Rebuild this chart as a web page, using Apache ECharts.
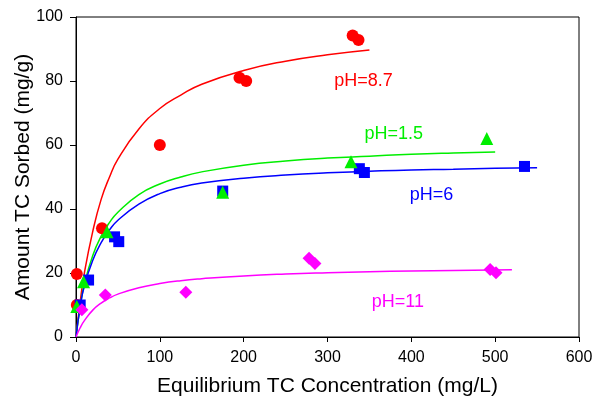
<!DOCTYPE html>
<html>
<head>
<meta charset="utf-8">
<script src="https://cdn.jsdelivr.net/npm/echarts@6/dist/echarts.min.js"></script>
<style>
  html, body { margin: 0; padding: 0; background: #fff; }
  #chart { width: 593px; height: 399px; }
</style>
</head>
<body>
<div id="chart"></div>
<script>
// measured points [concentration, sorbed]
const ph87Points = [[1, 10], [1, 19.7], [31, 34], [100, 60], [195, 81], [203, 80], [330, 94.2], [337, 92.8]];
const ph15Points = [[1, 9.5], [9, 17.3], [37, 32.9], [175, 45.2], [328, 54.8], [490, 62]];
const ph6Points = [[5, 10], [15, 17.8], [46, 31.3], [51, 29.8], [175, 45.6], [338, 52.6], [344, 51.4], [535, 53.3]];
const ph11Points = [[7, 8.5], [35, 13.1], [131, 14], [278, 24.6], [285, 23], [494, 21.1], [501, 20.1]];

// fitted curves
const ph87Curve = [[0, 0], [5, 11], [10, 20], [20, 33], [30, 43], [40, 50], [50, 55.6], [75, 65], [100, 71.4], [125, 75.6], [150, 79], [200, 83.3], [250, 86.2], [300, 88.2], [350, 89.7]];
const ph15Curve = [[0, 0], [5, 9.5], [10, 16.5], [20, 25.5], [30, 31.5], [40, 35.8], [50, 39], [75, 44.5], [100, 47.8], [125, 50], [150, 51.6], [200, 53.7], [250, 55], [300, 55.9], [350, 56.5], [400, 57.1], [450, 57.5], [500, 57.8]];
const ph6Curve = [[0, 0], [5, 9.5], [10, 16], [20, 24], [30, 29.5], [40, 33.5], [50, 36.5], [75, 41.5], [100, 44.8], [125, 46.8], [150, 48.1], [200, 49.6], [250, 50.6], [300, 51.3], [350, 51.8], [400, 52.2], [450, 52.4], [500, 52.7], [550, 52.9]];
const ph11Curve = [[0, 0], [5, 2.9], [10, 5.1], [20, 8.4], [30, 10.6], [40, 12.2], [50, 13.4], [75, 15.4], [100, 16.7], [125, 17.6], [150, 18.2], [200, 19.1], [250, 19.7], [300, 20.1], [350, 20.4], [400, 20.6], [450, 20.8], [520, 21]];

const curveLabels = [
  { name: 'pH=8.7', coord: [343, 80] },
  { name: 'pH=1.5', coord: [379, 63.5] },
  { name: 'pH=6', coord: [424, 44.5] },
  { name: 'pH=11', coord: [384, 10.8] }
];

const RED = '#ff0000', GREEN = '#00ee00', BLUE = '#0000ff', MAGENTA = '#ff00ff';
const FONT = 'Liberation Sans, Arial, sans-serif';

function curve(data, color, label) {
  return {
    type: 'line', data: data, smooth: 0.5, showSymbol: false, symbol: 'none',
    lineStyle: { color: color, width: 1.5 }, z: 2, silent: true,
    markPoint: {
      symbol: 'circle', symbolSize: 0,
      label: { show: true, formatter: '{b}', color: color, fontSize: 18, fontFamily: FONT },
      data: [label]
    }
  };
}

function points(data, color, symbol, size) {
  return {
    type: 'scatter', data: data, symbol: symbol, symbolSize: size,
    itemStyle: { color: color, opacity: 1 }, z: 3
  };
}

const chart = echarts.init(document.getElementById('chart'));
chart.setOption({
  animation: false,
  backgroundColor: '#fff',
  grid: {
    left: 76, right: 14, top: 17, bottom: 62, outerBoundsMode: 'none', containLabel: false,
    show: true, borderColor: '#000', borderWidth: 1
  },
  xAxis: {
    type: 'value', min: 0, max: 600, interval: 100,
    name: 'Equilibrium TC Concentration (mg/L)', nameLocation: 'middle', nameGap: 39, nameMoveOverlap: false,
    nameTextStyle: { fontSize: 21, color: '#000', fontFamily: FONT },
    axisLine: { show: true, lineStyle: { color: '#000', width: 1 } },
    axisTick: { show: true, inside: false, length: 5, lineStyle: { color: '#000' } },
    axisLabel: { fontSize: 16, color: '#000', margin: 13, fontFamily: FONT },
    splitLine: { show: false }
  },
  yAxis: {
    type: 'value', min: 0, max: 100, interval: 20,
    name: 'Amount TC Sorbed (mg/g)', nameLocation: 'middle', nameGap: 42, nameMoveOverlap: false,
    nameTextStyle: { fontSize: 21, color: '#000', fontFamily: FONT },
    axisLine: { show: true, lineStyle: { color: '#000', width: 1 } },
    axisTick: { show: true, inside: false, length: 6, lineStyle: { color: '#000' } },
    axisLabel: { fontSize: 16, color: '#000', margin: 13, fontFamily: FONT },
    splitLine: { show: false }
  },
  series: [
    curve(ph87Curve, RED, curveLabels[0]),
    curve(ph15Curve, GREEN, curveLabels[1]),
    curve(ph6Curve, BLUE, curveLabels[2]),
    curve(ph11Curve, MAGENTA, curveLabels[3]),
    points(ph87Points, RED, 'circle', 12),
    points(ph6Points, BLUE, 'rect', 11),
    points(ph15Points, GREEN, 'triangle', 13),
    points(ph11Points, MAGENTA, 'diamond', 13)
  ]
});
</script>
</body>
</html>
